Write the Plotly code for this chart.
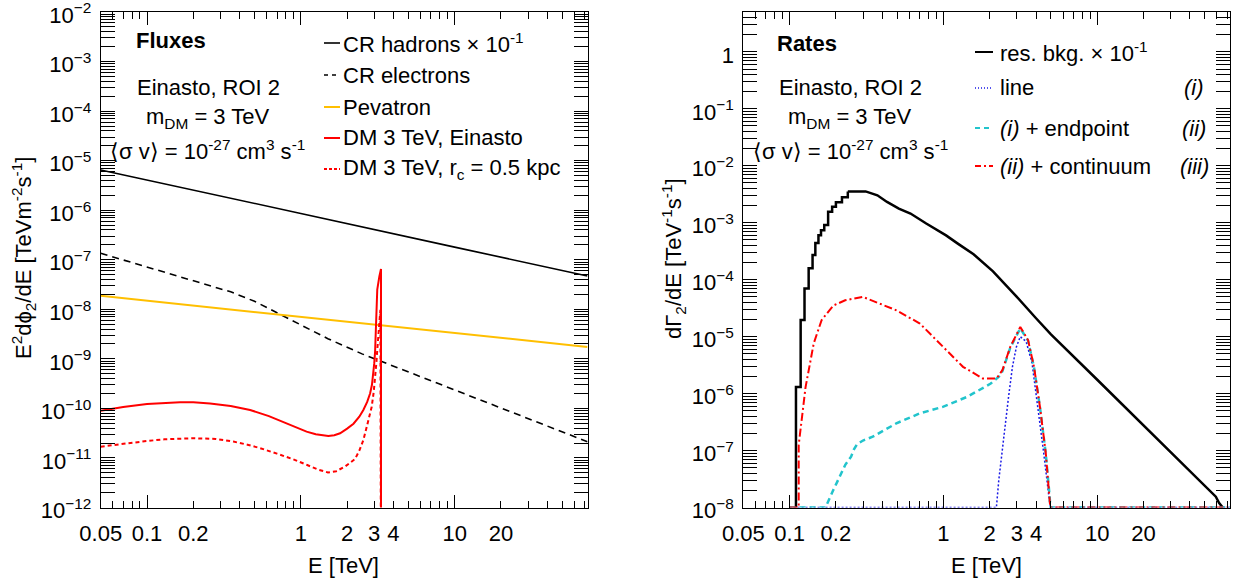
import math
import plotly.graph_objects as go

# ---------------- data: left panel (fluxes) ----------------
E_had = [0.05, 0.1, 1, 10, 73]
flux_had = [6.5e-6, 4.1e-6, 8.6e-7, 1.8e-7, 4.7e-8]

E_ele = [0.05, 0.2, 0.35, 0.5, 0.8, 1.5, 2.5, 10, 73]
flux_ele = [1.35e-7, 3.84e-8, 2.25e-8, 1.45e-8, 6.9e-9, 2.55e-9, 1.26e-9, 2.36e-10, 2.13e-11]

E_pev = [0.05, 1, 10, 73]
flux_pev = [1.87e-8, 7.0e-9, 3.3e-9, 1.74e-9]

E_dm = [0.05, 0.07, 0.1, 0.13, 0.164, 0.2, 0.257, 0.35, 0.468, 0.62, 0.81, 1.0, 1.09, 1.25,
        1.4, 1.51, 1.65, 1.8, 2.0, 2.2, 2.4, 2.55, 2.7, 2.82, 2.9, 2.96, 3.0, 3.04, 3.08,
        3.14, 3.24, 3.32, 3.32]
flux_dm = [9.0e-11, 1.07e-10, 1.22e-10, 1.3e-10, 1.33e-10, 1.33e-10, 1.26e-10, 1.12e-10, 9.3e-11,
           7.0e-11, 5.0e-11, 3.8e-11, 3.4e-11, 3.0e-11, 2.8e-11, 2.77e-11, 2.88e-11, 3.15e-11,
           3.9e-11, 4.9e-11, 6.8e-11, 9.3e-11, 1.35e-10, 2.0e-10, 3.0e-10, 5.1e-10, 8.0e-10,
           1.4e-9, 5.2e-9, 2.5e-8, 4.6e-8, 6.5e-8, 1e-14]

E_dmc = [0.05, 0.07, 0.1, 0.13, 0.2, 0.28, 0.364, 0.45, 0.543, 0.7, 0.893, 1.1, 1.3, 1.5,
         1.7, 1.95, 2.25, 2.4, 2.55, 2.7, 2.89, 2.98, 3.04, 3.1, 3.14, 3.24, 3.29, 3.32]
flux_dmc = [1.69e-11, 1.95e-11, 2.2e-11, 2.38e-11, 2.5e-11, 2.42e-11, 2.14e-11, 1.85e-11,
            1.58e-11, 1.22e-11, 9.4e-12, 7.2e-12, 5.8e-12, 5.1e-12, 5.4e-12, 6.8e-12, 9.5e-12,
            1.4e-11, 2.3e-11, 4.6e-11, 1.08e-10, 2.2e-10, 3.9e-10, 8.5e-10, 1.5e-9, 5.2e-9,
            9.8e-9, 1e-14]

# ---------------- data: right panel (rates) ----------------
E_bkg_rise = [0.110, 0.110, 0.118, 0.125, 0.133, 0.141, 0.147, 0.154, 0.160, 0.168, 0.178,
              0.189, 0.200, 0.219, 0.239]
rate_bkg_rise = [1e-8, 1.3e-6, 1.95e-5, 7.0e-5, 1.58e-4, 2.7e-4, 4.4e-4, 6.0e-4, 7.4e-4, 9.1e-4,
                 1.56e-3, 1.9e-3, 2.3e-3, 2.8e-3, 3.55e-3]
E_bkg_fall = [0.239, 0.312, 0.372, 0.43, 0.513, 0.611, 0.773, 1.04, 1.24, 1.57, 2.1, 2.5, 3.0,
              4.0, 5.0, 10, 20, 46, 59, 62, 65.5]
rate_bkg_fall = [3.55e-3, 3.55e-3, 3.03e-3, 2.32e-3, 1.77e-3, 1.45e-3, 9.7e-4, 6.0e-4, 4.3e-4,
                 2.8e-4, 1.4e-4, 8.6e-5, 5.0e-5, 2.1e-5, 1.1e-5, 1.75e-6, 2.8e-7, 3.0e-8,
                 1.55e-8, 1.2e-8, 1.0e-8]

E_line = [0.1, 2.21, 2.29, 2.49, 2.65, 2.81, 2.98, 3.16, 3.45, 3.77, 4.11, 4.49, 4.85, 4.97, 73]
rate_line = [1e-8, 1e-8, 3e-8, 2.3e-7, 8.7e-7, 2.95e-6, 6.6e-6, 1.0e-5, 8.2e-6, 3.4e-6, 5.9e-7,
             8.9e-8, 1.55e-8, 1e-8, 1e-8]

E_endp = [0.1, 0.171, 0.192, 0.217, 0.23, 0.251, 0.262, 0.274, 0.3, 0.347, 0.494, 0.703, 1.0,
          1.43, 2.03, 2.35, 2.42, 2.72, 3.16, 3.55, 3.88, 4.24, 4.63, 4.91, 4.95, 73]
rate_endp = [1e-8, 1e-8, 2.0e-8, 4e-8, 5.6e-8, 7.8e-8, 1.05e-7, 1.28e-7, 1.5e-7, 1.75e-7, 3.0e-7,
             4.5e-7, 5.9e-7, 8.8e-7, 1.5e-6, 2.1e-6, 2.5e-6, 6.4e-6, 1.4e-5, 8.5e-6, 2.9e-6,
             5.8e-7, 8.7e-8, 1.5e-8, 1e-8, 1e-8]

E_cont = [0.1, 0.1146, 0.1146, 0.127, 0.1435, 0.1614, 0.192, 0.2296, 0.299, 0.494, 0.703, 1.0,
          1.34, 1.80, 2.22, 2.42, 2.72, 3.16, 3.55, 3.88, 4.24, 4.63, 4.91, 4.95, 73]
rate_cont = [1e-8, 1e-8, 1.26e-7, 1.3e-6, 7.6e-6, 1.95e-5, 3.5e-5, 4.35e-5, 5.0e-5, 2.9e-5,
             1.7e-5, 6.6e-6, 2.95e-6, 1.85e-6, 1.85e-6, 2.6e-6, 6.6e-6, 1.48e-5, 8.7e-6, 2.95e-6,
             5.9e-7, 8.9e-8, 1.55e-8, 1e-8, 1e-8]

# ---------------- ticks ----------------
x_tick_vals = [0.05, 0.1, 0.2, 1, 2, 3, 4, 10, 20]
x_tick_text = ["0.05", "0.1", "0.2", "1", "2", "3", "4", "10", "20"]
x_major_vals = [0.1, 1, 10]
x_minor_vals = [0.06, 0.07, 0.08, 0.09, 0.3, 0.4, 0.5, 0.6, 0.7, 0.8, 0.9,
                5, 6, 7, 8, 9, 30, 40, 50, 60, 70]

yl_exp = list(range(-12, -1))
yr_exp = list(range(-8, 1))

def ylabels(exps):
    return ["1" if e == 0 else "10<sup>\u2212%d</sup>" % (-e) for e in exps]

def yminor(exps):
    return [m * 10.0 ** e for e in exps for m in range(2, 10)]

# ---------------- layout geometry (pixels) ----------------
W, H = 1237, 584
def px(x): return x / W
def py(y): return 1 - y / H

XL = [px(100.7), px(587.7)]
XR = [px(743.3), px(1230.3)]
YD = [py(507.5), py(12)]
XRANGE = [math.log10(0.05), 1.865]

FONT = "Liberation Sans, Arial, Helvetica, sans-serif"
FS = 22

fig = go.Figure()

def add(x, y, xa, ya, color, width, dash="solid", shape="linear"):
    fig.add_trace(go.Scatter(x=x, y=y, xaxis=xa, yaxis=ya, mode="lines",
                             line=dict(color=color, width=width, dash=dash, shape=shape),
                             showlegend=False, hoverinfo="skip"))

PEV = "#FFBF00"
CYAN = "#22C4CC"
BLUE = "#1A1AE6"

# left panel
add(E_had, flux_had, "x", "y", "black", 1.6)
add(E_ele, flux_ele, "x", "y", "black", 1.6, "7px,5px")
add(E_pev, flux_pev, "x", "y", PEV, 2)
add(E_dmc, flux_dmc, "x", "y", "red", 2, "4px,3px")
add(E_dm, flux_dm, "x", "y", "red", 2)

# right panel
add(E_bkg_rise, rate_bkg_rise, "x2", "y2", "black", 2.5, shape="hv")
add(E_bkg_fall, rate_bkg_fall, "x2", "y2", "black", 2.5)
add(E_line, rate_line, "x2", "y2", BLUE, 1.5, "2px,2px")
add(E_endp, rate_endp, "x2", "y2", CYAN, 2.5, "6px,4px")
add(E_cont, rate_cont, "x2", "y2", "red", 2, "8px,3px,2px,3px")

# dummy traces for overlay axes (long decade ticks)
fig.add_trace(go.Scatter(x=[None], y=[None], xaxis="x3", yaxis="y", showlegend=False, hoverinfo="skip"))
fig.add_trace(go.Scatter(x=[None], y=[None], xaxis="x4", yaxis="y2", showlegend=False, hoverinfo="skip"))

tickfont = dict(family=FONT, size=FS, color="black")

def xaxis(domain, anchor):
    return dict(type="log", domain=domain, anchor=anchor, range=XRANGE, automargin=False,
                tickmode="array", tickvals=x_tick_vals, ticktext=x_tick_text,
                ticks="inside", ticklen=7, tickwidth=1, tickcolor="black",
                showline=True, linecolor="black", linewidth=1, mirror="allticks",
                showgrid=False, zeroline=False, tickfont=tickfont, ticklabelstandoff=6,
                ticklabeloverflow="allow",
                minor=dict(tickmode="array", tickvals=x_minor_vals, ticks="inside",
                           ticklen=7, tickwidth=1, tickcolor="black", showgrid=False))

def xover(over, anchor, domain):
    return dict(type="log", overlaying=over, anchor=anchor, domain=domain, range=XRANGE,
                automargin=False,
                tickmode="array", tickvals=x_major_vals, ticks="inside", ticklen=13,
                tickwidth=1, tickcolor="black", showticklabels=False, showline=False,
                mirror="allticks", showgrid=False, zeroline=False)

def yaxis(anchor, rng, exps):
    return dict(type="log", domain=YD, anchor=anchor, range=rng, automargin=False,
                tickmode="array", tickvals=[10.0 ** e for e in exps], ticktext=ylabels(exps),
                ticks="inside", ticklen=14, tickwidth=1, tickcolor="black",
                showline=True, linecolor="black", linewidth=1, mirror="allticks",
                showgrid=False, zeroline=False, tickfont=tickfont, ticklabelstandoff=4,
                ticklabelshift=3, ticklabeloverflow="allow",
                minor=dict(tickmode="array", tickvals=yminor(exps[:-1] if exps[-1] != 0 else exps),
                           ticks="inside", ticklen=7, tickwidth=1, tickcolor="black",
                           showgrid=False))

fig.update_layout(
    width=W, height=H, margin=dict(l=0, r=0, t=0, b=0, pad=0, autoexpand=False),
    paper_bgcolor="white", plot_bgcolor="white", showlegend=False,
    font=dict(family=FONT, size=FS, color="black"),
    xaxis=xaxis(XL, "y"),
    yaxis=yaxis("x", [-12, -2], yl_exp),
    xaxis2=xaxis(XR, "y2"),
    yaxis2=yaxis("x2", [-8, 0.7], yr_exp),
    xaxis3=xover("x", "y", XL),
    xaxis4=xover("x2", "y2", XR),
)

ann = []
shapes = []

def text(x, y, s, anchor="left", size=FS, angle=0):
    ann.append(dict(x=px(x), y=py(y), xref="paper", yref="paper", text=s, showarrow=False,
                    xanchor=anchor, yanchor="middle", textangle=angle,
                    font=dict(family=FONT, size=size, color="black")))

def sample(x0, x1, y, color, width, dash="solid"):
    shapes.append(dict(type="line", xref="paper", yref="paper", x0=px(x0), x1=px(x1),
                       y0=py(y), y1=py(y), line=dict(color=color, width=width, dash=dash)))

# left panel texts
text(134, 40, "<b>Fluxes</b>")
text(208, 88, "Einasto, ROI 2", "center")
text(208, 118, "m<sub>DM</sub> = 3 TeV", "center")
text(207, 150, "\u27e8\u03c3 v\u27e9 = 10<sup>-27</sup> cm<sup>3</sup> s<sup>-1</sup>", "center")

leg_l = [(43, "CR hadrons \u00d7 10<sup>-1</sup>", "black", 1.6, "solid"),
         (75, "CR electrons", "black", 1.6, "4px,4px"),
         (107, "Pevatron", PEV, 2, "solid"),
         (138, "DM 3 TeV, Einasto", "red", 2, "solid"),
         (169, "DM 3 TeV, r<sub>c</sub> = 0.5 kpc", "red", 2, "3px,2px")]
for y, s, c, w, d in leg_l:
    sample(324, 340, y, c, w, d)
    text(341, y, s)

# right panel texts
text(775, 43, "<b>Rates</b>")
text(850, 88, "Einasto, ROI 2", "center")
text(850, 118, "m<sub>DM</sub> = 3 TeV", "center")
text(850, 150, "\u27e8\u03c3 v\u27e9 = 10<sup>-27</sup> cm<sup>3</sup> s<sup>-1</sup>", "center")

leg_r = [(52, "res. bkg. \u00d7 10<sup>-1</sup>", "black", 2, "solid", ""),
         (88, "line", BLUE, 1.5, "1px,2px", "<i>(i)</i>"),
         (128, "<i>(i)</i> + endpoint", CYAN, 2, "5px,4px", "<i>(ii)</i>"),
         (166, "<i>(ii)</i> + continuum", "red", 2, "6px,3px,2px,3px", "<i>(iii)</i>")]
for y, s, c, w, d, tag in leg_r:
    sample(975, 993, y, c, w, d)
    text(998, y, s)
    if tag:
        text(1194, y, tag, "center")

# axis titles
text(343, 565, "E [TeV]", "center")
text(986, 565, "E [TeV]", "center")
text(23, 258, "E<sup>2</sup>d\u03d5<sub>2</sub>/dE [TeVm<sup>-2</sup>s<sup>-1</sup>]", "center", angle=-90)
text(673, 259, "d\u0393<sub>2</sub>/dE [TeV<sup>-1</sup>s<sup>-1</sup>]", "center", angle=-90)

fig.update_layout(annotations=ann, shapes=shapes)
fig.write_html("out.html")
